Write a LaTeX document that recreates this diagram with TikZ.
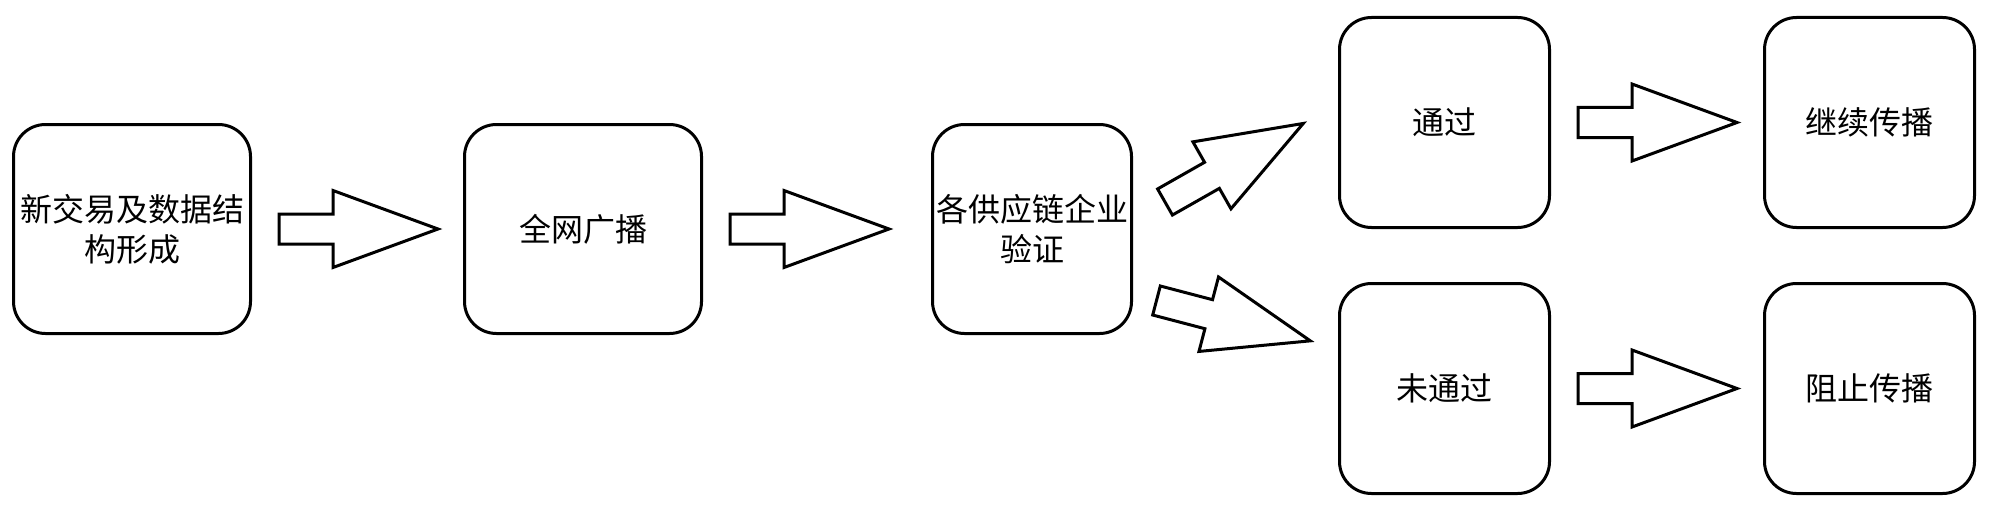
\documentclass[tikz,border=0pt]{standalone}
\usepackage{fontspec}
\setmainfont{Noto Sans CJK SC}
\usetikzlibrary{positioning,calc}

\begin{document}
\begin{tikzpicture}[
  x=0.5pt, y=-0.5pt,
  font=\fontsize{16pt}{20pt}\selectfont,
  line width=1.5pt,
  stepbox/.style={draw, rounded corners=16pt, fill=white, align=center,
      inner sep=0pt, minimum width=118.5pt, minimum height=104.5pt},
  squarebox/.style={stepbox, minimum width=105pt, minimum height=105pt},
  fatarrow/.pic={\draw[fill=white] (0,-15) -- (54,-15) -- (54,-38.5)
      -- (159,0) -- (54,38.5) -- (54,15) -- (0,15) -- cycle;}
]
\useasboundingbox (0,0) rectangle (2000,519);
\node[stepbox] (form) at (132,229) {新交易及数据结\\构形成};
\node[stepbox, right=105.5pt of form] (bcast) {全网广播};
\node[stepbox, minimum width=99.5pt, right=114pt of bcast]
  (verify) {各供应链企业\\验证};
\node[squarebox] (pass) at (1444.5,122.5) {通过};
\node[squarebox, below=26.5pt of pass] (fail) {未通过};
\node[squarebox, right=106pt of pass] (go) {继续传播};
\node[squarebox, right=106pt of fail] (stop) {阻止传播};
\pic at ($(form.east)+(27,0)$) {fatarrow};
\pic at ($(bcast.east)+(27,0)$) {fatarrow};
\pic[rotate=29.6] at ($(verify.east)+(32,-27)$) {fatarrow};
\pic[rotate=-14.7] at ($(verify.east)+(23.5,71.5)$) {fatarrow};
\pic at ($(pass.east)+(27,0)$) {fatarrow};
\pic at ($(fail.east)+(27,0)$) {fatarrow};
\end{tikzpicture}
\end{document}
